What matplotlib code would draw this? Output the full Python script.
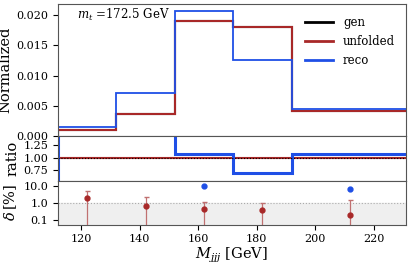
import numpy as np
import matplotlib
matplotlib.use("Agg")
import matplotlib.pyplot as plt

plt.rcParams['font.family'] = ['DejaVu Serif']
plt.rcParams['mathtext.fontset'] = 'dejavuserif'

# ---- data ----
edges = [112, 132, 152, 172, 192, 232]
centers = [122, 142, 162, 182, 212]
gen = [0.00094, 0.00358, 0.01912, 0.01807, 0.00419]
unfolded = [0.00094, 0.00358, 0.01912, 0.01807, 0.00419]
reco = [0.00154, 0.00706, 0.02066, 0.01256, 0.00452]
unf_ratio = [1.0, 1.0, 1.0, 1.0, 1.0]
delta_unf = [1.9, 0.66, 0.42, 0.40, 0.20]
delta_unf_up = [3.1, 1.74, 0.68, 0.56, 1.3]
delta_reco = [64.0, 97.0, 10.0, 33.0, 7.3]

RED = '#a82828'
BLUE = '#1f4fe6'

fig = plt.figure(figsize=(4.11, 2.69), dpi=100)
gs = fig.add_gridspec(3, 1, height_ratios=[131.7, 44.7, 43.7], hspace=0,
                      left=0.141, right=0.987, top=0.984, bottom=0.165)
ax1 = fig.add_subplot(gs[0])
ax2 = fig.add_subplot(gs[1], sharex=ax1)
ax3 = fig.add_subplot(gs[2], sharex=ax1)

ax1.stairs(gen, edges, color='black', lw=1.5, label='gen')
ax1.stairs(unfolded, edges, color=RED, lw=1.5, label='unfolded')
ax1.stairs(reco, edges, color=BLUE, lw=1.3, label='reco')
ax1.set_ylim(0, 0.0218)
ax1.set_xlim(112, 231)
ax1.set_yticks([0.0, 0.005, 0.010, 0.015, 0.020])
ax1.set_ylabel('Normalized', fontsize=10.5, labelpad=2.5)
ax1.tick_params(labelsize=8, labelbottom=False)
ax1.text(0.055, 0.92, r'$m_t$ =172.5 GeV', transform=ax1.transAxes,
         fontsize=8.5, va='center', ha='left')
leg = ax1.legend(loc='upper right', frameon=False, fontsize=8.5,
                 handles=[plt.Line2D([], [], color='black', lw=2),
                          plt.Line2D([], [], color=RED, lw=2),
                          plt.Line2D([], [], color=BLUE, lw=2)],
                 labels=['gen', 'unfolded', 'reco'],
                 bbox_to_anchor=(1.0, 0.99), labelspacing=0.5,
                 handlelength=2.4)

# ratio panel
ratio_reco = np.array(reco) / np.array(gen)
ax2.fill_between([edges[0], edges[1]], 0.985, 1.015, color=RED, alpha=0.45,
                 edgecolor='gray', lw=0.8)
ax2.stairs(unf_ratio, edges, color=RED, lw=1.5)
ax2.axhline(1.0, color='black', ls=':', lw=0.8)
ax2.stairs(ratio_reco, edges, color=BLUE, lw=2.2)
ax2.set_ylim(0.535, 1.43)
ax2.set_yticks([0.75, 1.0, 1.25])
ax2.set_yticklabels(['0.75', '1.00', '1.25'])
ax2.set_ylabel('ratio', fontsize=10.5, labelpad=3)
ax2.tick_params(labelsize=8, labelbottom=False)

# delta panel
ax3.set_yscale('log')
ax3.axhspan(0.01, 1.0, color='#efefef', zorder=0)
ax3.axhline(1.0, color='#aaaaaa', ls=':', lw=0.8)
lo = [v * 0.999 for v in delta_unf]
ax3.errorbar(centers, delta_unf, yerr=[lo, delta_unf_up], fmt='o', ms=3.5,
             color=RED, ecolor='#c07070', elinewidth=0.9, capsize=1.8)
ax3.plot(centers, delta_reco, 'o', ms=3.5, color=BLUE)
ax3.set_ylim(0.052, 21.5)
ax3.set_yticks([0.1, 1.0, 10.0])
ax3.set_yticklabels(['0.1', '1.0', '10.0'])
ax3.minorticks_off()
ax3.set_ylabel(r'$\delta\,[\%]$', fontsize=10.5, labelpad=3)
ax3.set_xticks([120, 140, 160, 180, 200, 220])
ax3.tick_params(labelsize=8)
ax3.set_xlabel(r'$M_{jjj}$ [GeV]', fontsize=10.5, labelpad=1)

for ax in (ax1, ax2, ax3):
    for s in ax.spines.values():
        s.set_color('#555555')

fig.savefig('out.png', dpi=100)
